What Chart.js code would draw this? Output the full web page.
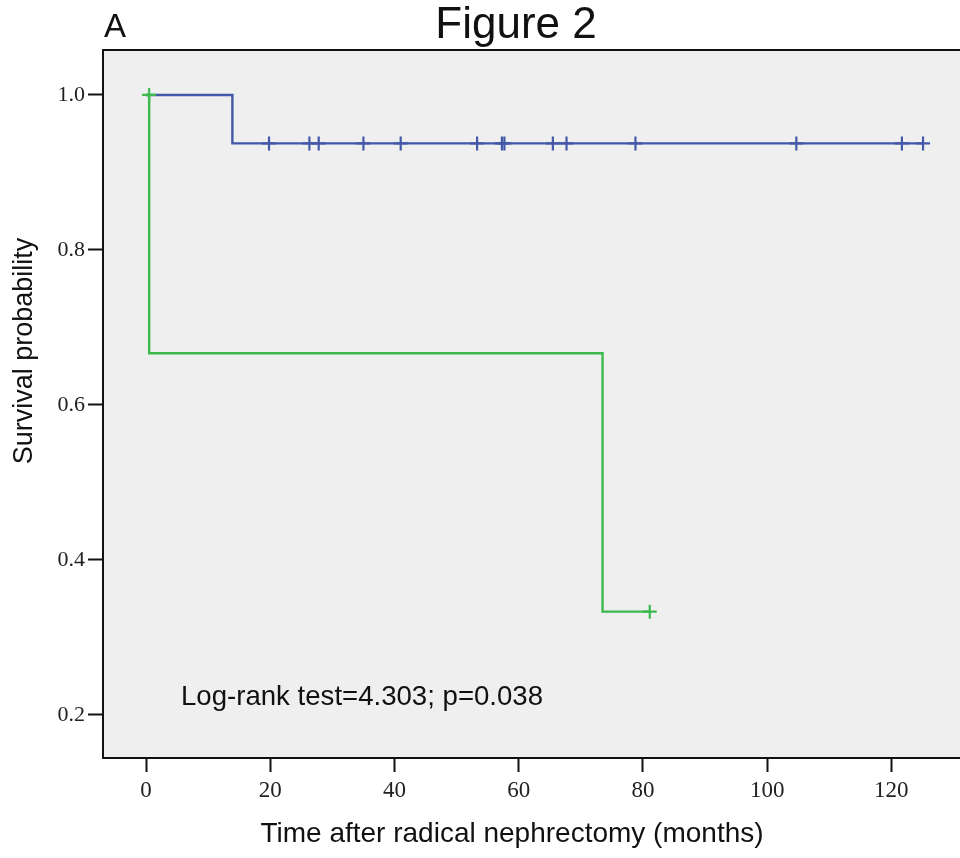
<!DOCTYPE html>
<html>
<head>
<meta charset="utf-8">
<script src="https://cdn.jsdelivr.net/npm/chart.js@4"></script>
<style>
    html, body { margin: 0; padding: 0; background: #fff; overflow: hidden; }
    #wrap { position: relative; width: 980px; height: 858px; }
    #kmChart { display: block; }
    .lbl { position: absolute; font-family: "Liberation Sans", Arial, sans-serif; color: #111; line-height: 1; white-space: nowrap; }
</style>
</head>
<body>
<div id="wrap">
    <canvas id="kmChart" width="980" height="858"></canvas>
    <div class="lbl" style="left:104px; top:9px; font-size:33px;">A</div>
    <div class="lbl" style="left:216px; top:1px; width:600px; text-align:center; font-size:44px;">Figure 2</div>
    <div class="lbl" style="left:10px; top:551px; width:400px; text-align:center; font-size:27px; transform-origin:0 0; transform:rotate(-90deg);">Survival probability</div>
    <div class="lbl" style="left:212px; top:819px; width:600px; text-align:center; font-size:28px;">Time after radical nephrectomy (months)</div>
    <div class="lbl" style="left:181px; top:682px; font-size:27.6px;">Log-rank test=4.303; p=0.038</div>
</div>
<script>
    // axis ticks
    const xTickValues = [0, 20, 40, 60, 80, 100, 120];
    const yTickValues = [0.2, 0.4, 0.6, 0.8, 1.0];

    // group 1 (blue) - step corners, months / survival
    const blueStepTimes = [0, 13.9, 125.1];
    const blueStepSurv = [1.0, 0.9375, 0.9375];
    const blueCensorTimes = [19.8, 26.3, 27.8, 35.0, 41.0, 53.3, 57.3, 57.7, 65.5, 67.7, 78.8, 104.7, 121.7, 125.1];
    const blueCensorSurv = [0.9375, 0.9375, 0.9375, 0.9375, 0.9375, 0.9375, 0.9375, 0.9375, 0.9375, 0.9375, 0.9375, 0.9375, 0.9375, 0.9375];

    // group 2 (green)
    const greenStepTimes = [0, 0.5, 73.5, 81.1];
    const greenStepSurv = [1.0, 0.6667, 0.3333, 0.3333];
    const greenCensorTimes = [0.5, 81.1];
    const greenCensorSurv = [1.0, 0.3333];

    const BLUE = "#4358a8";
    const GREEN = "#3dba4e";

    function pts(xs, ys) {
        return xs.map((x, i) => ({ x: x, y: ys[i] }));
    }

    // grey plot panel + black frame
    const panelPlugin = {
        id: "panel",
        beforeDraw(chart) {
            const a = chart.chartArea, c = chart.ctx;
            c.save();
            c.fillStyle = "#efefef";
            c.fillRect(a.left, a.top, a.right - a.left, a.bottom - a.top);
            c.restore();
        },
        afterDraw(chart) {
            const a = chart.chartArea, c = chart.ctx;
            c.save();
            c.strokeStyle = "#111";
            c.lineWidth = 2;
            c.strokeRect(a.left, a.top, a.right - a.left, a.bottom - a.top);
            c.restore();
        }
    };

    const serif = "'Liberation Serif', 'Times New Roman', serif";

    new Chart(document.getElementById("kmChart"), {
        type: "scatter",
        data: {
            datasets: [
                { type: "scatter", data: pts(greenCensorTimes, greenCensorSurv), pointStyle: "cross", pointRadius: 7, borderColor: GREEN, borderWidth: 2.2 },
                { type: "line", data: pts(greenStepTimes, greenStepSurv), stepped: true, borderColor: GREEN, borderWidth: 2.4, pointRadius: 0, fill: false },
                { type: "scatter", data: pts(blueCensorTimes, blueCensorSurv), pointStyle: "cross", pointRadius: 7, borderColor: BLUE, borderWidth: 2.2 },
                { type: "line", data: pts(blueStepTimes, blueStepSurv), stepped: true, borderColor: BLUE, borderWidth: 2.4, pointRadius: 0, fill: false }
            ]
        },
        options: {
            responsive: false,
            animation: false,
            layout: { padding: { top: 50, left: 0, right: 0, bottom: 0 } },
            plugins: { legend: { display: false }, tooltip: { enabled: false }, title: { display: false } },
            scales: {
                x: {
                    type: "linear",
                    min: -6.93,
                    max: 132.79,
                    afterBuildTicks: s => { s.ticks = xTickValues.map(v => ({ value: v })); },
                    afterFit: s => { s.height = 100; },
                    border: { display: false },
                    grid: { drawOnChartArea: false, drawTicks: true, tickLength: 14, tickColor: "#111", tickWidth: 2 },
                    ticks: { font: { family: serif, size: 23 }, color: "#222", padding: 5, maxRotation: 0 }
                },
                y: {
                    type: "linear",
                    min: 0.1445,
                    max: 1.058,
                    afterBuildTicks: s => { s.ticks = yTickValues.map(v => ({ value: v })); },
                    afterFit: s => { s.width = 103; },
                    border: { display: false },
                    grid: { drawOnChartArea: false, drawTicks: true, tickLength: 15, tickColor: "#111", tickWidth: 2 },
                    ticks: { font: { family: serif, size: 22 }, color: "#222", padding: 3, callback: v => v.toFixed(1) }
                }
            }
        },
        plugins: [panelPlugin]
    });
</script>
</body>
</html>
